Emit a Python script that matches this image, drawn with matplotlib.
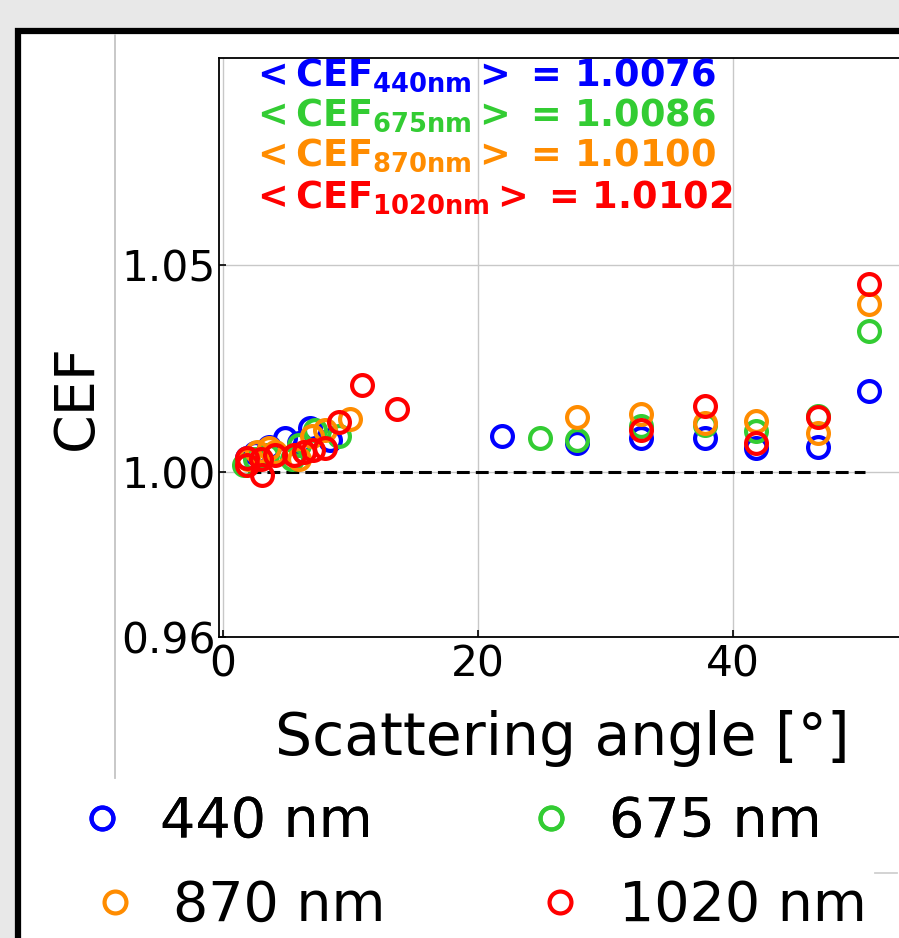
import matplotlib
matplotlib.use("Agg")
import matplotlib.pyplot as plt
from matplotlib.patches import Rectangle
from matplotlib.lines import Line2D

# ---------------- data ----------------
wavelengths = ["440 nm", "675 nm", "870 nm", "1020 nm"]
wl_tags = ["440nm", "675nm", "870nm", "1020nm"]
mean_cef = ["1.0076", "1.0086", "1.0100", "1.0102"]
colors = ["#0000ff", "#33cc33", "#ff8c00", "#ff0000"]

x_440 = [1.9, 2.5, 3.6, 4.9, 6.0, 6.8, 8.4, 21.9, 27.8, 32.8, 37.8, 41.8, 46.7, 50.7]
y_440 = [1.0034, 1.0045, 1.0060, 1.0082, 1.0070, 1.0106, 1.0077, 1.0087, 1.0068,
         1.0082, 1.0082, 1.0056, 1.0060, 1.0196]

x_675 = [1.7, 2.5, 3.5, 5.4, 6.0, 7.2, 9.1, 24.9, 27.8, 32.8, 37.8, 41.8, 46.7, 50.7]
y_675 = [1.0017, 1.0030, 1.0040, 1.0030, 1.0065, 1.0101, 1.0085, 1.0080, 1.0077,
         1.0111, 1.0113, 1.0099, 1.0135, 1.0341]

x_870 = [2.0, 2.7, 3.6, 4.1, 6.0, 7.0, 8.0, 10.0, 27.8, 32.8, 37.8, 41.8, 46.7, 50.7]
y_870 = [1.0030, 1.0048, 1.0058, 1.0048, 1.0030, 1.0085, 1.0101, 1.0126, 1.0133,
         1.0140, 1.0118, 1.0123, 1.0094, 1.0405]

x_1020 = [1.9, 1.9, 3.0, 3.1, 4.1, 5.6, 6.4, 7.1, 8.0, 9.1, 10.9, 13.7, 32.8, 37.8,
          41.8, 46.7, 50.7]
y_1020 = [1.0034, 1.0017, 1.0030, 0.9992, 1.0040, 1.0040, 1.0048, 1.0053, 1.0058,
          1.0121, 1.0210, 1.0152, 1.0101, 1.0159, 1.0070, 1.0133, 1.0454]

ref_x = [2.0, 50.4]
ref_y = [1.0, 1.0]

xticks = [0, 20, 40]
yticks = [0.96, 1.00, 1.05]
ytick_labels = ["0.96", "1.00", "1.05"]

series_x = [x_440, x_675, x_870, x_1020]
series_y = [y_440, y_675, y_870, y_1020]

# ---------------- figure ----------------
W, H = 899, 938
fig = plt.figure(figsize=(W / 100, H / 100), dpi=100)
fig.patch.set_facecolor("#e8e8e8")

# white panel with thick black frame
frame = Rectangle((18 / W, -0.2), 2.0, 1.2 - 31 / H, transform=fig.transFigure,
                  facecolor="white", edgecolor="black", linewidth=4.5, zorder=-2)
fig.patches.append(frame)
fig.lines.append(Line2D([115 / W, 115 / W], [1 - 35 / H, 1 - 778 / H],
                        transform=fig.transFigure, color="#c4c4c4", lw=1.3, zorder=-1))
fig.lines.append(Line2D([875 / W, 897 / W], [1 - 873 / H, 1 - 873 / H],
                        transform=fig.transFigure, color="#d0d0d0", lw=1.3, zorder=-1))

ax_l, ax_r, ax_t, ax_b = 219, 924, 58, 637
ax = fig.add_axes([ax_l / W, 1 - ax_b / H, (ax_r - ax_l) / W, (ax_b - ax_t) / H])
ax.set_facecolor("white")

handles = []
for xs, ys, c, lab in zip(series_x, series_y, colors, wavelengths):
    h, = ax.plot(xs, ys, linestyle="none", marker="o", markersize=15,
                 markerfacecolor="none", markeredgecolor=c, markeredgewidth=3.0,
                 label=lab, zorder=3)
    handles.append(h)

ax.plot(ref_x, ref_y, color="black", lw=2.2, dashes=(4.2, 2.0), zorder=2)

ax.set_xlim(-0.3, 55)
ax.set_ylim(0.96, 1.10)
ax.set_xticks(xticks)
ax.set_yticks(yticks)
ax.set_yticklabels(ytick_labels)
ax.grid(True, color="#c8c8c8", lw=1.0)
ax.set_axisbelow(True)
ax.tick_params(direction="in", length=5, width=1.2, labelsize=30.5, pad=5)
ax.tick_params(axis="y", pad=2)
for s in ax.spines.values():
    s.set_linewidth(1.3)

ax.set_xlabel("Scattering angle [°]", fontsize=42)
ax.xaxis.set_label_coords((562 - ax_l) / (ax_r - ax_l), (ax_b - 710) / (ax_b - ax_t))
fig.text(77 / W, 1 - 397 / H, "CEF", rotation=90, fontsize=40,
         ha="center", va="center")

# mean CEF annotations
baselines = [86, 126, 166, 208]
for tag, val, c, yb in zip(wl_tags, mean_cef, colors, baselines):
    ax.text((250 - ax_l) / (ax_r - ax_l), (ax_b - yb) / (ax_b - ax_t),
            r"$\mathbf{<CEF_{%s}>}$ = %s" % (tag, val),
            transform=ax.transAxes, color=c, fontsize=26.5, fontweight="bold",
            ha="left", va="baseline", clip_on=True, zorder=5)

# legend rows
leg_kw = dict(ncol=2, frameon=False, fontsize=40, handlelength=0.6,
              handletextpad=0.75, borderpad=0, borderaxespad=0,
              markerscale=1.05)
leg1 = fig.legend([handles[0], handles[1]], [wavelengths[0], wavelengths[1]],
                  loc="center left", bbox_to_anchor=(85 / W, 1 - 822 / H),
                  columnspacing=2.9, **leg_kw)
fig.add_artist(leg1)
leg2 = fig.legend([handles[2], handles[3]], [wavelengths[2], wavelengths[3]],
                  loc="center left", bbox_to_anchor=(98 / W, 1 - 906 / H),
                  columnspacing=2.85, **leg_kw)

fig.savefig("out.png", dpi=100, facecolor=fig.get_facecolor())
